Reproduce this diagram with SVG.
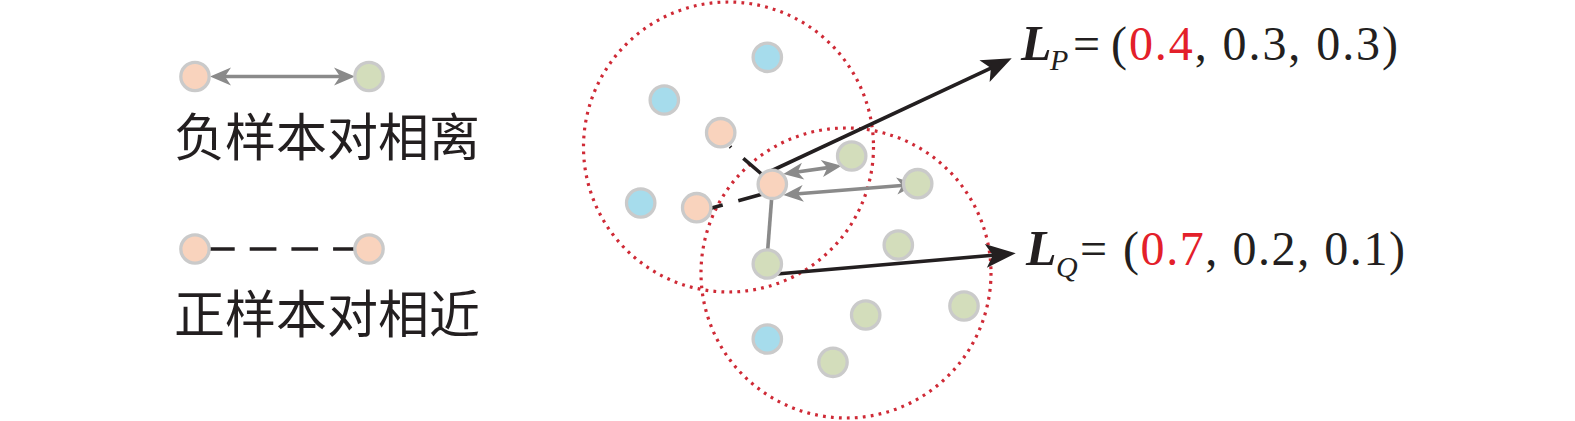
<svg xmlns="http://www.w3.org/2000/svg" width="1575" height="421" viewBox="0 0 1575 421">
<defs>
<style>
.nd{stroke:#cacaca;stroke-width:3.3}
.pe{fill:#f9d3bd}
.gr{fill:#d3ddbb}
.bl{fill:#a6dcec}
.ring{fill:none;stroke:#cf2a36;stroke-width:3.2;stroke-dasharray:2.8 5.2}
.ga{stroke:#8a8a8a;stroke-width:3.6;fill:none}
.bk{stroke:#231f20;stroke-width:3.6;fill:none}
.cjk{font-family:"Noto Sans CJK SC","Noto Sans CJK JP",sans-serif;font-size:51px;fill:#231f20}
.ser{font-family:"Liberation Serif","Times New Roman",serif;fill:#231f20}
</style>
<marker id="ba" markerUnits="userSpaceOnUse" viewBox="-31 -13 32 26" markerWidth="32" markerHeight="26" refX="-20" refY="0" orient="auto">
<path d="M0,0 L-30,-12 L-23,0 L-30,12 Z" fill="#231f20"/>
</marker>
<marker id="ga" markerUnits="userSpaceOnUse" viewBox="-22 -10 23 20" markerWidth="23" markerHeight="20" refX="-12" refY="0" orient="auto-start-reverse">
<path d="M0,0 L-20,-8.5 L-14.5,0 L-20,8.5 Z" fill="#8a8a8a"/>
</marker>
<marker id="ga2" markerUnits="userSpaceOnUse" viewBox="-22 -10 23 20" markerWidth="23" markerHeight="20" refX="-13" refY="0" orient="auto-start-reverse">
<path d="M0,0 L-21,-9 L-15,0 L-21,9 Z" fill="#8a8a8a"/>
</marker>
</defs>
<rect width="1575" height="421" fill="#ffffff"/>

<g id="rings">
<circle class="ring" cx="728.5" cy="147" r="145"/>
<circle class="ring" cx="846" cy="273" r="145"/>
</g>

<g id="connectors">
<line class="ga" x1="223" y1="76.5" x2="342" y2="76.5" marker-start="url(#ga2)" marker-end="url(#ga2)"/>
<line class="bk" x1="208" y1="249" x2="357" y2="249" stroke-dasharray="26.7 15"/>
<path class="bk" d="M730,146.6 L731,147.6 M743.3,158.3 L762.7,175"/>
<path class="bk" d="M710.7,208.3 L722.7,205 M738.3,200.7 L762.7,194"/>
<line class="ga" x1="772.3" y1="190" x2="767.3" y2="255"/>
<line class="ga" x1="795.2" y1="172.3" x2="829.8" y2="167.4" marker-start="url(#ga)" marker-end="url(#ga)"/>
<line class="ga" x1="795.3" y1="194" x2="904.7" y2="185.3" marker-start="url(#ga)" marker-end="url(#ga)"/>
<line class="bk" x1="771" y1="171" x2="993.6" y2="66.8" marker-end="url(#ba)"/>
<line class="bk" x1="776.7" y1="274" x2="995.8" y2="255" marker-end="url(#ba)"/>
</g>

<g id="legend-neg">
<circle class="nd pe" cx="195" cy="76.5" r="14.2"/>
<circle class="nd gr" cx="369" cy="76.5" r="14.2"/>
<text class="cjk" x="174" y="156">负样本对相离</text>
</g>
<g id="legend-pos">
<circle class="nd pe" cx="195" cy="249" r="14.2"/>
<circle class="nd pe" cx="369" cy="249" r="14.2"/>
<text class="cjk" x="174" y="333">正样本对相近</text>
</g>

<g id="nodes">
<circle id="n1" class="nd bl" cx="767.3" cy="57.3" r="14.2"/>
<circle id="n2" class="nd bl" cx="664.3" cy="100" r="14.2"/>
<circle id="n3" class="nd pe" cx="720.7" cy="132.7" r="14.2"/>
<circle id="n4" class="nd bl" cx="640.7" cy="203" r="14.2"/>
<circle id="n5" class="nd pe" cx="696.7" cy="207.7" r="14.2"/>
<circle id="n6" class="nd pe" cx="772.3" cy="184.3" r="14.2"/>
<circle id="n7" class="nd gr" cx="851.7" cy="156" r="14.2"/>
<circle id="n8" class="nd gr" cx="917.7" cy="183.7" r="14.2"/>
<circle id="n9" class="nd gr" cx="898.3" cy="245" r="14.2"/>
<circle id="n10" class="nd gr" cx="767.3" cy="264" r="14.2"/>
<circle id="n11" class="nd gr" cx="964" cy="306" r="14.2"/>
<circle id="n12" class="nd gr" cx="865.7" cy="315" r="14.2"/>
<circle id="n13" class="nd bl" cx="767.3" cy="339" r="14.2"/>
<circle id="n14" class="nd gr" cx="833" cy="362.3" r="14.2"/>
</g>

<g id="label-P">
<text class="ser" x="1021" y="60" font-size="50" font-weight="bold" font-style="italic">L</text>
<text class="ser" x="1050" y="70" font-size="30" font-style="italic">P</text>
<text class="ser" x="1073" y="60" font-size="48">=</text>
<text class="ser" x="1111" y="60" font-size="48" textLength="287" lengthAdjust="spacing">(<tspan fill="#e3202a">0.4</tspan>, 0.3, 0.3)</text>
</g>
<g id="label-Q">
<text class="ser" x="1026" y="265" font-size="50" font-weight="bold" font-style="italic">L</text>
<text class="ser" x="1056" y="277" font-size="30" font-style="italic">Q</text>
<text class="ser" x="1080" y="265" font-size="48">=</text>
<text class="ser" x="1123" y="265" font-size="48" textLength="282" lengthAdjust="spacing">(<tspan fill="#e3202a">0.7</tspan>, 0.2, 0.1)</text>
</g>
</svg>
